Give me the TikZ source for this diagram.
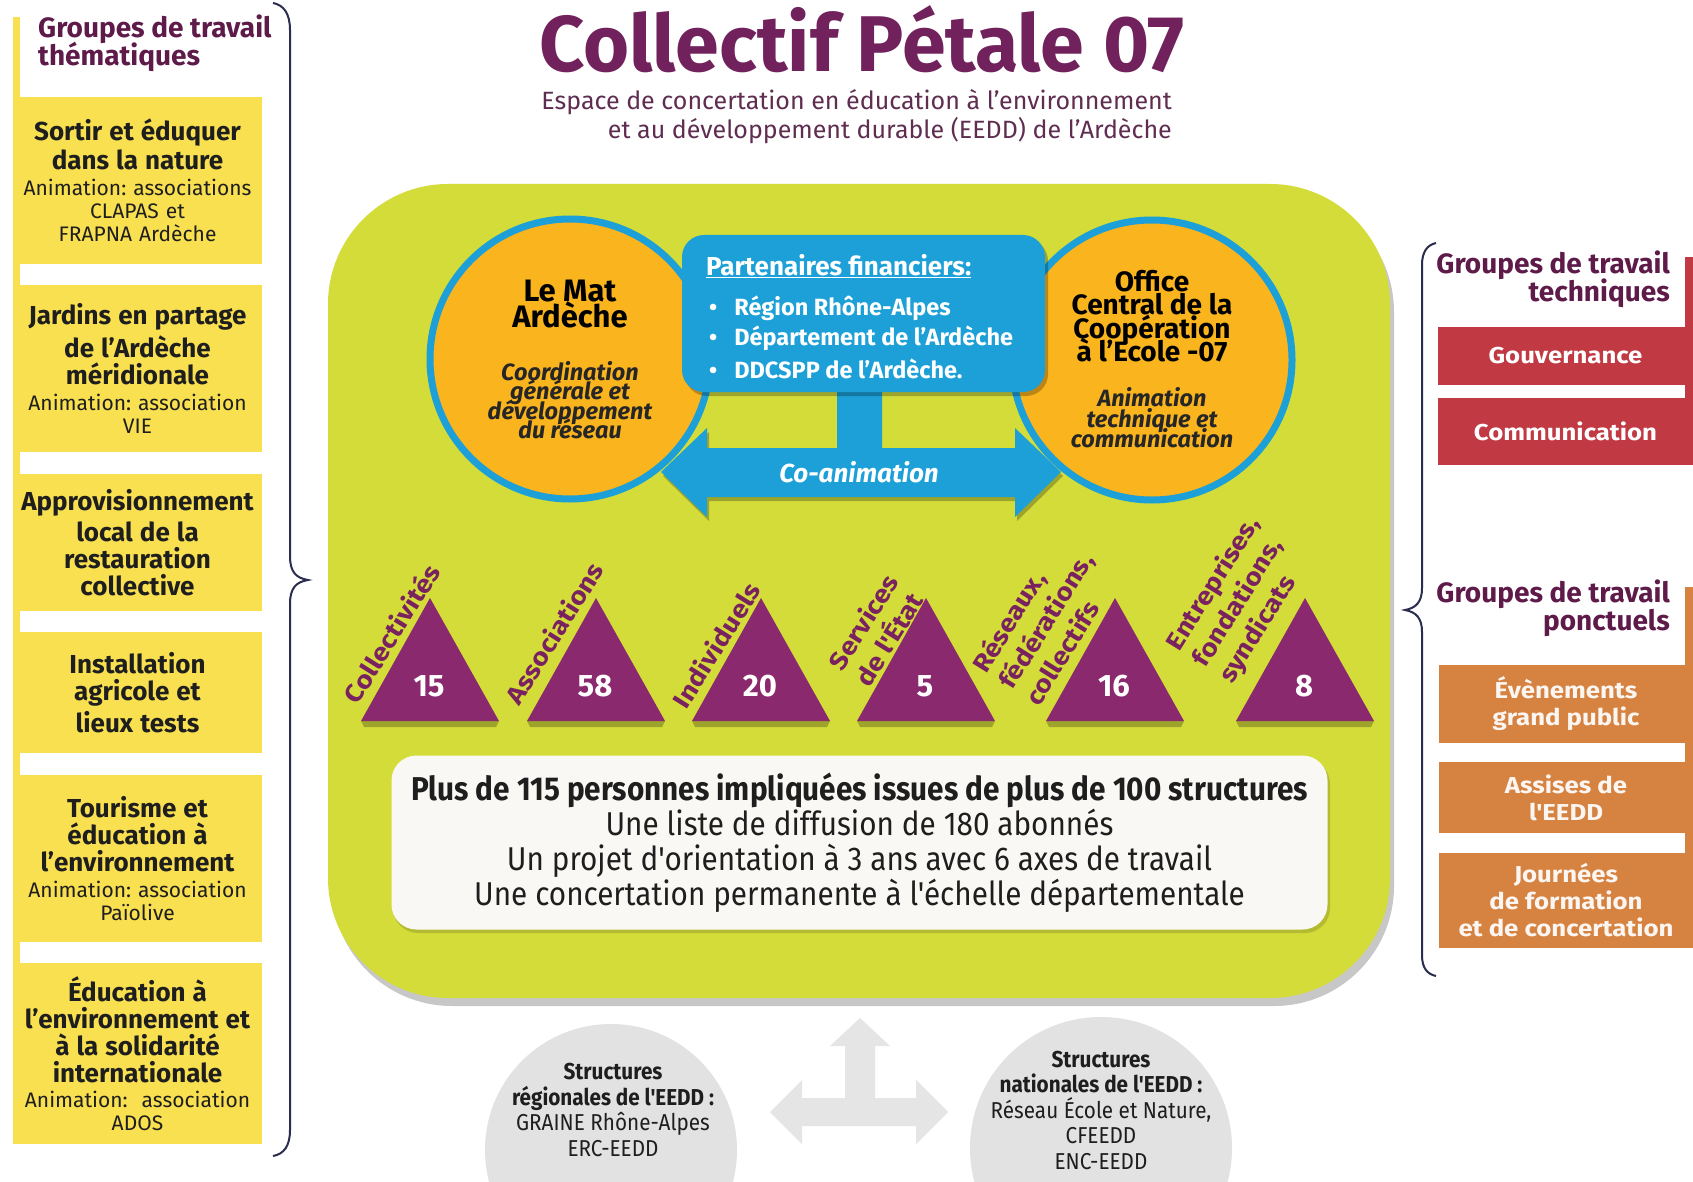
\documentclass[tikz,border=0pt]{standalone}
\usepackage{fontspec}
\setmainfont{Fira Sans}
\newfontfamily\condf{Fira Sans}[FakeStretch=0.9]
\newfontfamily\widef{Fira Sans}[FakeStretch=1.12]
\lineskiplimit=-100pt
\frenchspacing
\definecolor{limec}{RGB}{212,220,58}
\definecolor{yel}{RGB}{249,224,80}
\definecolor{orc}{RGB}{250,180,30}
\definecolor{bluc}{RGB}{28,160,215}
\definecolor{redc}{RGB}{192,57,67}
\definecolor{orb}{RGB}{214,130,64}
\definecolor{purt}{RGB}{139,41,110}
\definecolor{purl}{RGB}{122,33,96}
\definecolor{purd}{RGB}{94,27,74}
\definecolor{titc}{RGB}{113,33,91}
\definecolor{subc}{RGB}{95,45,80}
\definecolor{navy}{RGB}{43,45,79}
\definecolor{grc}{RGB}{226,226,226}
\definecolor{gra}{RGB}{229,229,229}
\definecolor{txd}{RGB}{30,30,30}
\definecolor{wbc}{RGB}{250,248,244}
\newcommand\myfs[2]{\fontsize{#1}{#2}\selectfont}
\newcommand\bt[1]{{\bfseries\myfs{26}{27}#1}}
\begin{document}
\begin{tikzpicture}[x=1pt,y=-1pt,
  ybox/.style={rectangle, fill=yel, minimum width=249pt, text width=245pt, align=center, inner sep=0pt, text=txd, font=\myfs{21}{23}},
  rbox/.style={rectangle, fill=redc, minimum width=255pt, inner sep=0pt, align=center, text=white, font=\widef\bfseries\myfs{23}{27}},
  obox/.style={rectangle, fill=orb, minimum width=254pt, inner sep=0pt, align=center, text=white!93!orb, font=\widef\bfseries\myfs{23}{27}},
  grouptitle/.style={text=purd, font=\bfseries\myfs{28}{28}, inner sep=0pt},
  trinum/.style={text=white, font=\bfseries\myfs{31}{31}, inner sep=0pt},
  trilab/.style={text=purl, font=\widef\bfseries\myfs{25}{31}, rotate=58, align=left, inner sep=0pt},
  brace/.style={draw=navy, line width=2pt},
  ring/.style={circle, draw=bluc, line width=7pt, fill=orc, minimum size=280pt, inner sep=0pt},
  circtitle/.style={align=center, inner sep=0pt, text=black, font=\bfseries\myfs{31}{26}},
  circsub/.style={align=center, inner sep=0pt, text=black!85, font=\bfseries\itshape\myfs{23.5}{19.5}},
  ptext/.style={anchor=west, inner sep=0pt, text=white, font=\bfseries\myfs{23.5}{23}},
  gcirc/.style={circle, fill=grc, inner sep=0pt},
  gtext/.style={align=center, inner sep=0pt, text=txd, font=\condf\myfs{23}{25.5}}
]
\useasboundingbox (0,0) rectangle (1693,1182);
\fill[white] (0,0) rectangle (1693,1182);

% ---------- title ----------
\node[anchor=base, inner sep=0pt, text=titc, font=\bfseries\myfs{79}{79}] (title) at (862,72) {Collectif Pétale 07};
\node[anchor=east, align=right, inner sep=0pt, text=subc, font=\myfs{25}{29}] (subtitle) at (1172,117) {Espace de concertation en éducation à l'environnement\\et au développement durable (EEDD) de l'Ardèche};

% ---------- left column ----------
\fill[yel] (13,17) rectangle (20,1144);
\node[grouptitle, anchor=west, align=left] (lt) at (38,43) {Groupes de travail\\thématiques};
\node[ybox, minimum height=167pt] (b1) at (137.5,180.5) {\bt{Sortir et éduquer}\\[3pt]\bt{dans la nature}\\[3pt]Animation: associations\\CLAPAS et\\FRAPNA Ardèche};
\node[ybox, minimum height=167pt] (b2) at (137.5,368.5) {\bt{Jardins en partage}\\[4pt]\bt{de l'Ardèche}\\[4pt]\bt{méridionale}\\[3pt]Animation: association\\VIE};
\node[ybox, minimum height=137pt] (b3) at (137.5,542.5) {\bt{Approvisionnement}\\[4pt]\bt{local de la}\\[4pt]\bt{restauration}\\[4pt]\bt{collective}};
\node[ybox, minimum height=121pt] (b4) at (137.5,692.5) {\bt{Installation}\\[4pt]\bt{agricole et}\\[4pt]\bt{lieux tests}};
\node[ybox, minimum height=167pt] (b5) at (137.5,858.5) {\bt{Tourisme et}\\[4pt]\bt{éducation à}\\[4pt]\bt{l'environnement}\\[3pt]Animation: association\\Païolive};
\node[ybox, minimum height=181pt] (b6) at (137.5,1053.5) {\bt{Éducation à}\\[4pt]\bt{l'environnement et}\\[4pt]\bt{à la solidarité}\\[4pt]\bt{internationale}\\[2pt]Animation:~ association\\ADOS};
\draw[brace] (273,3) .. controls (284,5) and (290,14) .. (290,30) -- (290,556) .. controls (290,572) and (296,578) .. (308,580) .. controls (296,582) and (290,588) .. (290,604) -- (290,1130) .. controls (290,1146) and (284,1154) .. (273,1156);

% ---------- right column ----------
\fill[redc] (1685,257) rectangle (1693,465);
\node[grouptitle, anchor=east, align=right] (rt1) at (1670,279) {Groupes de travail\\techniques};
\node[rbox, minimum height=58pt] (gouv) at (1565.5,356) {Gouvernance};
\node[rbox, minimum height=67pt] (comm) at (1565.5,431.5) {Communication};
\fill[orb] (1685,587) rectangle (1693,948);
\node[grouptitle, anchor=east, align=right] (rt2) at (1670,608) {Groupes de travail\\ponctuels};
\node[obox, minimum height=78pt] (even) at (1566,704) {Évènements\\grand public};
\node[obox, minimum height=71pt] (assi) at (1566,797.5) {Assises de\\l'EEDD};
\node[obox, minimum height=95pt] (journ) at (1566,900.5) {Journées\\de formation\\et de concertation};
\draw[brace] (1436,243) .. controls (1427,245) and (1422,252) .. (1422,265) -- (1422,588) .. controls (1422,602) and (1416,608) .. (1405,610) .. controls (1416,612) and (1422,618) .. (1422,632) -- (1422,955) .. controls (1422,968) and (1427,974) .. (1436,976);

% ---------- central green block ----------
\fill[black, opacity=0.22, rounded corners=120pt] (332,192) rectangle (1394,1006);
\fill[limec, rounded corners=120pt] (328,184) rectangle (1390,998);

\node[ring] (mat) at (570,359) {};
\node[ring] (occe) at (1152,360) {};
\node[circtitle] (matt) at (570,304) {Le Mat\\Ardèche};
\node[circsub] (mats) at (570,400) {Coordination\\générale et\\développement\\du réseau};
\node[circtitle, font=\bfseries\myfs{28}{23.5}] (occt) at (1152,316) {Office\\Central de la\\Coopération\\à l'Ecole -07};
\node[circsub, font=\bfseries\itshape\myfs{23.5}{20.5}] (occs) at (1152,418) {Animation\\technique et\\communication};

% blue co-animation arrow
\fill[black, opacity=0.25] (663,476) -- (709,432) -- (709,452) -- (1017,452) -- (1017,432) -- (1063,476) -- (1017,521) -- (1017,501) -- (709,501) -- (709,521) -- cycle;
\fill[bluc] (661,472) -- (707,428) -- (707,448) -- (837,448) -- (837,392) -- (882,392) -- (882,448) -- (1015,448) -- (1015,428) -- (1061,472) -- (1015,517) -- (1015,497) -- (707,497) -- (707,517) -- cycle;
\node[inner sep=0pt, text=white, font=\bfseries\itshape\myfs{26}{26}] (coan) at (859,472) {Co-animation};

% partners box
\fill[black, opacity=0.25, rounded corners=22pt] (685,239) rectangle (1048,396);
\node[rectangle, rounded corners=22pt, fill=bluc, minimum width=363pt, minimum height=157pt, inner sep=0pt] (part) at (863.5,313.5) {};
\node[ptext, font=\bfseries\myfs{26}{26}] (pt0) at (706,266) {\underline{Partenaires financiers:}};
\node[ptext] (pt1) at (709,308) {\textbullet\hspace{17pt}Région Rhône-Alpes};
\node[ptext] (pt2) at (709,338) {\textbullet\hspace{17pt}Département de l'Ardèche};
\node[ptext] (pt3) at (709,369) {\textbullet\hspace{17pt}DDCSPP de l'Ardèche.};

% triangles
\foreach \cx/\n/\nm in {430/15/t1, 596/58/t2, 761/20/t3, 926/5/t4, 1115/16/t5, 1305/8/t6}{
  \fill[black, opacity=0.25] (\cx-69,721) -- (\cx+69,721) -- (\cx+66,727) -- (\cx-66,727) -- cycle;
  \fill[purt] (\cx-69,721) -- (\cx,598) -- (\cx+69,721) -- cycle;
  \node[trinum] (\nm) at (\cx-1,686) {\n};
}
\node[trilab] (l1) at (391,633) {Collectivités};
\node[trilab] (l2) at (554,633) {Associations};
\node[trilab] (l3) at (716,645) {Individuels};
\node[trilab] (l4) at (876,630) {Services\\de l'État};
\node[trilab] (l5) at (1045,620) {Réseaux,\\fédérations,\\collectifs};
\node[trilab] (l6) at (1240,600) {Entreprises,\\fondations,\\syndicats};

% white info box
\fill[black, opacity=0.15, rounded corners=25pt] (393,759) rectangle (1330,933);
\node[rectangle, rounded corners=25pt, fill=wbc, minimum width=936pt, minimum height=174pt, inner sep=0pt, align=center, text=txd, font=\condf\myfs{33}{35}] (info) at (859.5,842.5) {\textbf{Plus de 115 personnes impliquées issues de plus de 100 structures}\\Une liste de diffusion de 180 abonnés\\Un projet d'orientation à 3 ans avec 6 axes de travail\\Une concertation permanente à l'échelle départementale};

% ---------- bottom ----------
\node[gcirc, minimum size=252pt] (reg) at (611,1150) {};
\node[gcirc, minimum size=262pt] (nat) at (1101,1148) {};
\node[gtext] (regt) at (613,1110) {\textbf{Structures}\\\textbf{régionales de l'EEDD :}\\GRAINE Rhône-Alpes\\ERC-EEDD};
\node[gtext] (natt) at (1101,1110) {\textbf{Structures}\\\textbf{nationales de l'EEDD :}\\Réseau École et Nature,\\CFEEDD\\ENC-EEDD};
\fill[gra] (770,1112) -- (802,1080) -- (802,1098) -- (845,1098) -- (845,1046) -- (830,1046) -- (860,1018) -- (890,1046) -- (875,1046) -- (875,1098) -- (916,1098) -- (916,1080) -- (948,1112) -- (916,1144) -- (916,1126) -- (802,1126) -- (802,1144) -- cycle;
\end{tikzpicture}
\end{document}
